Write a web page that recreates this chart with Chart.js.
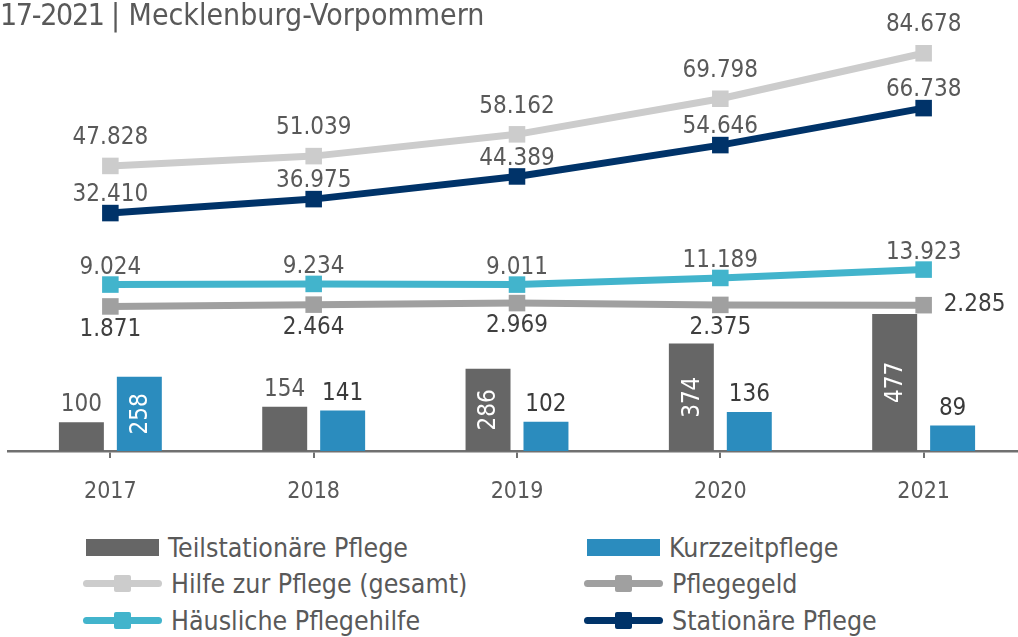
<!DOCTYPE html>
<html>
<head>
<meta charset="utf-8">
<script src="https://cdn.jsdelivr.net/npm/chart.js@4.4.1/dist/chart.umd.min.js"></script>
<style>
  html, body { margin: 0; padding: 0; background: #fff; width: 1018px; height: 637px; overflow: hidden; position: relative; }
  body { font-family: "DejaVu Sans Condensed", "DejaVu Sans", sans-serif; color: #595959; }
  #title { position: absolute; left: 0; top: -2px; font-size: 30px; line-height: 34px; white-space: nowrap; color: #595959; z-index: 2; }
  #title .yr { letter-spacing: -1.3px; }
  #c { position: absolute; left: -3px; top: 0; }
  .leg { position: absolute; height: 30px; display: flex; align-items: center; font-size: 26.5px; white-space: nowrap; color: #595959; }
  .sw { position: relative; height: 30px; margin-right: 9px; flex: none; }
  .bar { position: absolute; left: 0; top: 6.5px; height: 17px; width: 100%; }
  .ln { position: absolute; left: 0; top: 11.5px; height: 7px; width: 100%; border-radius: 4px; }
  .sq { position: absolute; top: 6.5px; width: 17px; height: 17px; border-radius: 2px; }
</style>
</head>
<body>
<div id="title"><span class="yr">17-2021 </span>| Mecklenburg-Vorpommern</div>
<canvas id="c" width="1040" height="531"></canvas>
<div id="legend"></div>
<script>
// ---- data ----
const categories = ['2017', '2018', '2019', '2020', '2021'];
const teilstationaer = [100, 154, 286, 374, 477];
const kurzzeitpflege = [258, 141, 102, 136, 89];
const hilfeGesamt = [47828, 51039, 58162, 69798, 84678];
const pflegegeld = [1871, 2464, 2969, 2375, 2285];
const haeuslich = [9024, 9234, 9011, 11189, 13923];
const stationaer = [32410, 36975, 44389, 54646, 66738];
const seriesNames = ['Teilstationäre Pflege', 'Kurzzeitpflege', 'Hilfe zur Pflege (gesamt)', 'Pflegegeld', 'Häusliche Pflegehilfe', 'Stationäre Pflege'];

const FONT = '"DejaVu Sans Condensed", "DejaVu Sans", sans-serif';
const fmt = v => String(v).replace(/\B(?=(\d{3})+(?!\d))/g, '.');

const colors = {
  teil: '#666666', kurz: '#2b8cbe', hilfe: '#cccccc', geld: '#a0a0a0', haus: '#42b4cc', stat: '#003369'
};

const labelPlugin = {
  id: 'valueLabels',
  afterDatasetsDraw(chart) {
    const ctx = chart.ctx;
    ctx.save();
    chart.data.datasets.forEach((ds, i) => {
      const meta = chart.getDatasetMeta(i);
      const L = ds.lbl;
      meta.data.forEach((el, j) => {
        const v = ds.data[j];
        const txt = fmt(v);
        ctx.font = '24px ' + FONT;
        if (ds.type === 'bar') {
          if (v >= 200) {
            ctx.save();
            ctx.translate(el.x, (el.y + el.base) / 2);
            ctx.rotate(-Math.PI / 2);
            ctx.fillStyle = '#ffffff';
            ctx.textAlign = 'center';
            ctx.textBaseline = 'middle';
            ctx.fillText(txt, 0, 1);
            ctx.restore();
          } else {
            ctx.fillStyle = L.color;
            ctx.textAlign = 'center';
            ctx.textBaseline = 'middle';
            ctx.fillText(txt, el.x, el.y - 17);
          }
        } else {
          ctx.fillStyle = L.color;
          ctx.textBaseline = 'middle';
          if (L.rightLast && j === ds.data.length - 1) {
            ctx.textAlign = 'left';
            ctx.fillText(txt, el.x + 20, el.y);
          } else {
            ctx.textAlign = 'center';
            ctx.fillText(txt, el.x, el.y + L.dy);
          }
        }
      });
    });
    ctx.restore();
  }
};

const lineDs = (label, data, color, lbl) => ({
  type: 'line', label, data, yAxisID: 'y2',
  borderColor: color, backgroundColor: color,
  borderWidth: 7, tension: 0,
  pointStyle: 'rect', pointRadius: 11.7, pointHoverRadius: 11.7,
  pointBorderWidth: 0, pointBackgroundColor: color,
  order: 0, lbl
});

const barDs = (label, data, color, lbl) => ({
  type: 'bar', label, data, yAxisID: 'y',
  backgroundColor: color, borderWidth: 0,
  categoryPercentage: 0.57, barPercentage: 0.776,
  order: 1, lbl
});

new Chart(document.getElementById('c'), {
  data: {
    labels: categories,
    datasets: [
      barDs(seriesNames[0], teilstationaer, colors.teil, { color: '#595959' }),
      barDs(seriesNames[1], kurzzeitpflege, colors.kurz, { color: '#3a3a3a' }),
      lineDs(seriesNames[2], hilfeGesamt, colors.hilfe, { color: '#595959', dy: -28 }),
      lineDs(seriesNames[3], pflegegeld, colors.geld, { color: '#3f3f3f', dy: 23, rightLast: true }),
      lineDs(seriesNames[4], haeuslich, colors.haus, { color: '#595959', dy: -17 }),
      lineDs(seriesNames[5], stationaer, colors.stat, { color: '#595959', dy: -18 })
    ]
  },
  options: {
    responsive: false,
    maintainAspectRatio: false,
    animation: false,
    events: [],
    layout: { padding: { left: 4.2, right: 8, top: 40, bottom: 5.4 } },
    plugins: { legend: { display: false }, tooltip: { enabled: false }, title: { display: false } },
    scales: {
      x: {
        type: 'category',
        offset: true,
        grid: { display: true, offset: false, drawOnChartArea: false, drawTicks: true, tickLength: 7, color: '#707070', lineWidth: 2 },
        border: { display: true, color: '#707070', width: 2.5 },
        ticks: { color: '#595959', font: { family: FONT, size: 23 }, padding: 20 }
      },
      y: { display: false, min: 0, max: 1430 },
      y2: { display: false, min: -45410, max: 89016 }
    }
  },
  plugins: [labelPlugin]
});

// ---- HTML legend ----
const legendItems = [
  { name: seriesNames[0], kind: 'bar', color: colors.teil, x: 86, w: 73, row: 0 },
  { name: seriesNames[1], kind: 'bar', color: colors.kurz, x: 587, w: 73, row: 0 },
  { name: seriesNames[2], kind: 'line', color: colors.hilfe, x: 83, w: 79, row: 1 },
  { name: seriesNames[3], kind: 'line', color: colors.geld, x: 584, w: 79, row: 1 },
  { name: seriesNames[4], kind: 'line', color: colors.haus, x: 83, w: 79, row: 2 },
  { name: seriesNames[5], kind: 'line', color: colors.stat, x: 584, w: 79, row: 2 }
];
const rowY = [547, 583.5, 620];
const legend = document.getElementById('legend');
legendItems.forEach(it => {
  const d = document.createElement('div');
  d.className = 'leg';
  d.style.left = it.x + 'px';
  d.style.top = (rowY[it.row] - 15) + 'px';
  const sw = document.createElement('div');
  sw.className = 'sw';
  sw.style.width = it.w + 'px';
  if (it.kind === 'bar') {
    const b = document.createElement('div');
    b.className = 'bar'; b.style.background = it.color; sw.appendChild(b);
  } else {
    const l = document.createElement('div');
    l.className = 'ln'; l.style.background = it.color; sw.appendChild(l);
    const s = document.createElement('div');
    s.className = 'sq'; s.style.background = it.color; s.style.left = (it.w / 2 - 8.5) + 'px'; sw.appendChild(s);
  }
  d.appendChild(sw);
  const t = document.createElement('span');
  t.textContent = it.name;
  d.appendChild(t);
  legend.appendChild(d);
});
</script>
</body>
</html>
